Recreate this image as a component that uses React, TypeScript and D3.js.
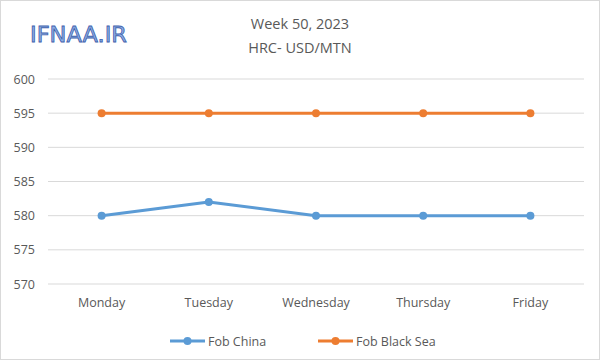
import React from "react";
import * as d3 from "d3";

const categories = ["Monday", "Tuesday", "Wednesday", "Thursday", "Friday"];
const fobChina = [580, 582, 580, 580, 580];
const fobBlackSea = [595, 595, 595, 595, 595];
const yTicks = [570, 575, 580, 585, 590, 595, 600];
const seriesNames = ["Fob China", "Fob Black Sea"];
const seriesColors = ["#5B9BD5", "#ED7D31"];

export default function App() {
  const W = 600, H = 360;
  const left = 48, right = 584, top = 79, bottom = 284;
  const x = d3.scaleBand<string>().domain(categories).range([left, right]);
  const y = d3.scaleLinear().domain([570, 600]).range([bottom, top]);
  const line = d3
    .line<number>()
    .x((_, i) => (x(categories[i]) as number) + x.bandwidth() / 2)
    .y((d) => y(d));
  const series = [fobChina, fobBlackSea];
  const font = "'Open Sans', 'Noto Sans', sans-serif";
  const textColor = "#595959";
  const legendX = [170, 318];
  return (
    <svg width={W} height={H} style={{ position: "absolute", left: 0, top: 0 }} fontFamily={font}>
      <rect x={0} y={0} width={W} height={H} fill="#fff" />
      <rect x={0.5} y={0.5} width={W - 1} height={H - 1} fill="none" stroke="#d9d9d9" />
      <text
        x={30}
        y={42}
        fontSize={21}
        fill="#8fb0e6"
        stroke="#3f62ad"
        strokeWidth={0.8}
        fontFamily="'DejaVu Sans', sans-serif"
        textLength={97}
        lengthAdjust="spacingAndGlyphs"
      >
        IFNAA.IR
      </text>
      <text x={300} y={29} textAnchor="middle" fontSize={14.5} fill={textColor}>
        Week 50, 2023
      </text>
      <text x={300} y={53} textAnchor="middle" fontSize={14.5} fill={textColor}>
        HRC- USD/MTN
      </text>
      {yTicks.map((t) => (
        <g key={t}>
          <line x1={left} x2={right} y1={y(t)} y2={y(t)} stroke="#d9d9d9" strokeWidth={1} />
          <text x={35} y={y(t) + 4.5} textAnchor="end" fontSize={12.5} fill={textColor}>
            {t}
          </text>
        </g>
      ))}
      {categories.map((c) => (
        <text
          key={c}
          x={(x(c) as number) + x.bandwidth() / 2}
          y={307}
          textAnchor="middle"
          fontSize={12.5}
          fill={textColor}
        >
          {c}
        </text>
      ))}
      {series.map((s, si) => (
        <g key={si}>
          <path d={line(s) || ""} fill="none" stroke={seriesColors[si]} strokeWidth={3} strokeLinejoin="round" />
          {s.map((v, i) => (
            <circle
              key={i}
              cx={(x(categories[i]) as number) + x.bandwidth() / 2}
              cy={y(v)}
              r={4}
              fill={seriesColors[si]}
            />
          ))}
        </g>
      ))}
      {seriesNames.map((n, i) => (
        <g key={n}>
          <line x1={legendX[i]} x2={legendX[i] + 35} y1={341} y2={341} stroke={seriesColors[i]} strokeWidth={3} />
          <circle cx={legendX[i] + 17.5} cy={341} r={4} fill={seriesColors[i]} />
          <text x={legendX[i] + 38} y={345.5} fontSize={12.5} fill={textColor}>
            {n}
          </text>
        </g>
      ))}
    </svg>
  );
}
